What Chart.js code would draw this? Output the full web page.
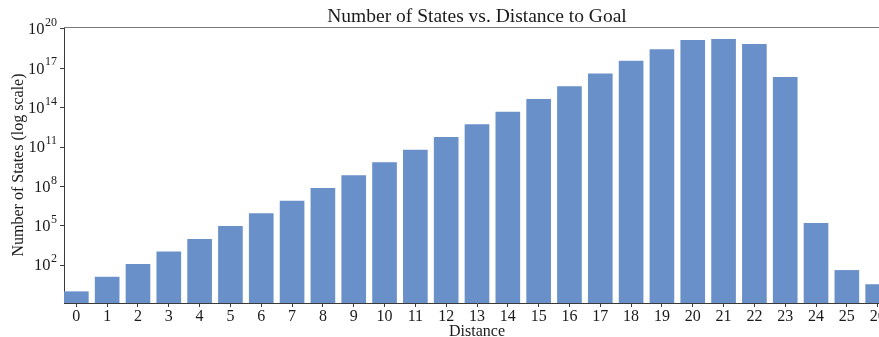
<!DOCTYPE html>
<html>
<head>
<meta charset="utf-8">
<title>Number of States vs. Distance to Goal</title>
<script src="https://cdn.jsdelivr.net/npm/chart.js@4/dist/chart.umd.min.js"></script>
<style>
  html, body { margin: 0; padding: 0; background: #fff; overflow: hidden; }
  .chart-wrap { position: relative; width: 892px; height: 337px; }
</style>
</head>
<body>
<div class="chart-wrap"><canvas id="statesChart"></canvas></div>
<script>
'use strict';

/* ---- DATA ------------------------------------------------- */
const distances = [0, 1, 2, 3, 4, 5, 6, 7, 8, 9, 10, 11, 12, 13, 14, 15, 16, 17, 18, 19, 20, 21, 22, 23, 24, 25, 26];
const stateCounts = [
  1, 13, 120, 1100, 1.0e4, 9.4e4, 8.8e5, 8.2e6, 7.7e7, 7.2e8,
  6.8e9, 6.3e10, 5.8e11, 5.4e12, 4.9e13, 4.6e14, 4.3e15, 4.0e16, 3.7e17, 2.8e18,
  1.4e19, 1.7e19, 7.0e18, 2.2e16, 1.6e5, 42, 3.5
];
const yTickExponents = [2, 5, 8, 11, 14, 17, 20];

const TITLE = 'Number of States vs. Distance to Goal';
const X_LABEL = 'Distance';
const Y_LABEL = 'Number of States (log scale)';

/* ---- STYLE ------------------------------------------------ */
const FONT = '"Liberation Serif", "Times New Roman", serif';
const INK = '#1a1a1a';
const AXIS = '#3a3a3a';
const BAR = '#6a90c9';

/* ---- TEXT + SPINE PLUGIN ---------------------------------- */
const latexText = {
  id: 'latexText',
  afterDraw(chart) {
    const { ctx, chartArea: a, scales } = chart;
    const y = scales.y;
    ctx.save();
    ctx.fillStyle = INK;

    // top spine
    ctx.strokeStyle = '#7a7a7a';
    ctx.lineWidth = 1.2;
    ctx.beginPath();
    ctx.moveTo(a.left, a.top + 0.5);
    ctx.lineTo(a.right, a.top + 0.5);
    ctx.stroke();

    // title
    ctx.font = `19.5px ${FONT}`;
    ctx.textAlign = 'center';
    ctx.textBaseline = 'alphabetic';
    ctx.fillText(TITLE, (a.left + a.right) / 2, 21.5);

    // x axis label
    ctx.font = `16px ${FONT}`;
    ctx.fillText(X_LABEL, (a.left + a.right) / 2, 335.5);

    // y axis label
    ctx.save();
    ctx.translate(19, (a.top + a.bottom) / 2);
    ctx.rotate(-Math.PI / 2);
    ctx.textBaseline = 'middle';
    ctx.fillText(Y_LABEL, 0, 0);
    ctx.restore();

    // y tick labels 10^n
    const rightEdge = a.left - 7;
    yTickExponents.forEach(e => {
      const py = y.getPixelForValue(Math.pow(10, e));
      ctx.font = `12px ${FONT}`;
      const expW = ctx.measureText(String(e)).width;
      ctx.textAlign = 'left';
      ctx.textBaseline = 'middle';
      ctx.fillText(String(e), rightEdge - expW, py - 6);
      ctx.font = `16.5px ${FONT}`;
      ctx.textAlign = 'right';
      ctx.fillText('10', rightEdge - expW - 0.5, py + 1);
    });

    ctx.restore();
  }
};

/* ---- CHART ------------------------------------------------ */
const ctx = document.getElementById('statesChart');

new Chart(ctx, {
  type: 'bar',
  data: {
    datasets: [{
      data: stateCounts.map((v, i) => ({ x: distances[i], y: v })),
      backgroundColor: BAR,
      borderWidth: 0,
      barPercentage: 0.8,
      categoryPercentage: 1.0
    }]
  },
  options: {
    responsive: true,
    maintainAspectRatio: false,
    devicePixelRatio: 1,
    animation: false,
    layout: { padding: { top: 27, right: 2, left: 0, bottom: 0 } },
    plugins: {
      legend: { display: false },
      tooltip: { enabled: false },
      title: { display: false }
    },
    scales: {
      x: {
        type: 'linear',
        offset: false,
        min: -0.4,
        max: 26.4,
        afterBuildTicks: s => { s.ticks = distances.map(d => ({ value: d })); },
        afterFit: s => { s.height = 34; },
        grid: { display: true, offset: false, drawOnChartArea: false, drawTicks: true, tickLength: 4, color: AXIS },
        border: { display: true, color: AXIS, width: 1 },
        ticks: {
          font: { family: FONT, size: 16 },
          color: INK,
          padding: 0,
          maxRotation: 0,
          autoSkip: false,
          callback: v => String(v)
        }
      },
      y: {
        type: 'logarithmic',
        min: 0.13,
        max: 1.4e20,
        afterBuildTicks: s => { s.ticks = yTickExponents.map(e => ({ value: Math.pow(10, e) })); },
        afterFit: s => { s.width = 64; },
        grid: { display: true, drawOnChartArea: false, drawTicks: true, tickLength: 4, color: AXIS },
        border: { display: true, color: AXIS, width: 1 },
        ticks: { display: false }
      }
    }
  },
  plugins: [latexText]
});
</script>
</body>
</html>
